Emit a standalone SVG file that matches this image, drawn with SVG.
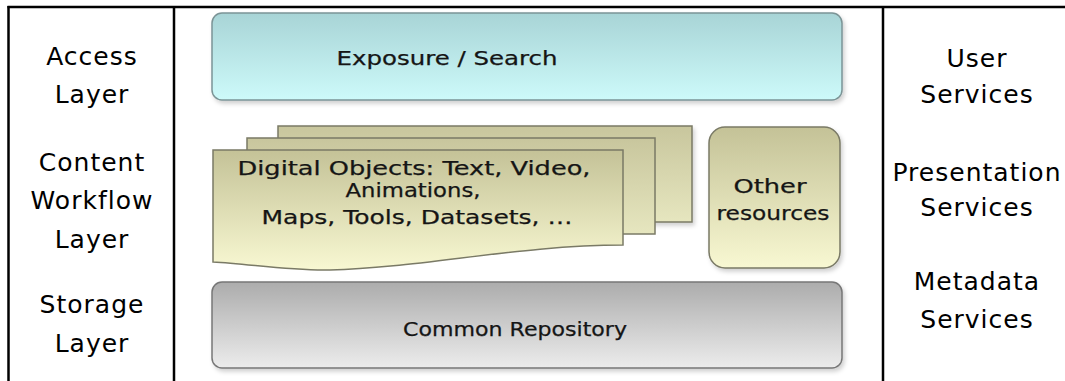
<svg xmlns="http://www.w3.org/2000/svg" width="1065" height="381" viewBox="0 0 1065 381">
  <defs>
    <linearGradient id="gCyan" x1="0" y1="0" x2="0" y2="1">
      <stop offset="0" stop-color="#a8d4d6"/>
      <stop offset="1" stop-color="#cdfafa"/>
    </linearGradient>
    <linearGradient id="gGray" x1="0" y1="0" x2="0" y2="1">
      <stop offset="0" stop-color="#acacac"/>
      <stop offset="1" stop-color="#ececec"/>
    </linearGradient>
    <linearGradient id="gOlive" x1="0" y1="0" x2="0" y2="1">
      <stop offset="0" stop-color="#c4c297"/>
      <stop offset="1" stop-color="#f8f8d2"/>
    </linearGradient>
    <linearGradient id="gOliveBack" x1="0" y1="0" x2="0" y2="1">
      <stop offset="0" stop-color="#c8c69d"/>
      <stop offset="1" stop-color="#e6e6bf"/>
    </linearGradient>
    <filter id="shadow" x="-5%" y="-5%" width="110%" height="120%">
      <feDropShadow dx="2" dy="3" stdDeviation="2" flood-color="#000" flood-opacity="0.18"/>
    </filter>
  </defs>
  <style>
    .frame { stroke: #000; stroke-width: 2.5; fill: none; }
    .side { font-family: "DejaVu Sans", Verdana, sans-serif; font-size: 25px; letter-spacing: 1px; fill: #000; text-anchor: middle; }
    .inner { font-family: "DejaVu Sans", "Comic Sans MS", sans-serif; font-size: 19px; fill: #151515; stroke: #151515; stroke-width: 0.25; text-anchor: middle; }
    .box { stroke-width: 1.5; }
  </style>
  <rect width="1065" height="381" fill="#fff"/>

  <g id="frame">
    <line class="frame" x1="7.5" y1="7" x2="1065" y2="7"/>
    <line class="frame" x1="8.5" y1="6" x2="8.5" y2="381"/>
    <line class="frame" x1="174" y1="6" x2="174" y2="381"/>
    <line class="frame" x1="883" y1="6" x2="883" y2="381"/>
  </g>

  <g id="left-labels">
    <text class="side" x="92" y="65">Access</text>
    <text class="side" x="92" y="103">Layer</text>
    <text class="side" x="92" y="171">Content</text>
    <text class="side" x="92" y="209">Workflow</text>
    <text class="side" x="92" y="248">Layer</text>
    <text class="side" x="92" y="313">Storage</text>
    <text class="side" x="92" y="352">Layer</text>
  </g>

  <g id="right-labels">
    <text class="side" x="977" y="67">User</text>
    <text class="side" x="977" y="103">Services</text>
    <text class="side" x="977" y="181">Presentation</text>
    <text class="side" x="977" y="216">Services</text>
    <text class="side" x="977" y="290">Metadata</text>
    <text class="side" x="977" y="328">Services</text>
  </g>

  <g id="exposure-search">
    <rect class="box" x="212" y="13" width="630" height="87" rx="10" fill="url(#gCyan)" stroke="#7b9496" filter="url(#shadow)"/>
    <text class="inner" x="447" y="65" textLength="221" lengthAdjust="spacingAndGlyphs">Exposure / Search</text>
  </g>

  <g id="digital-objects">
    <rect class="box" x="278" y="126" width="414" height="96" fill="url(#gOliveBack)" stroke="#7a7a66" filter="url(#shadow)"/>
    <rect class="box" x="247" y="138" width="408" height="96" fill="url(#gOliveBack)" stroke="#7a7a66"/>
    <path class="box" d="M213,150 H623 V245 C520,245 420,268 330,270 C290,271 250,264 213,262 Z" fill="url(#gOlive)" stroke="#7a7a66"/>
    <text class="inner" x="414" y="175" textLength="353" lengthAdjust="spacingAndGlyphs">Digital Objects: Text, Video,</text>
    <text class="inner" x="413" y="197" textLength="135" lengthAdjust="spacingAndGlyphs">Animations,</text>
    <text class="inner" x="417" y="224" textLength="311" lengthAdjust="spacingAndGlyphs">Maps, Tools, Datasets, …</text>
  </g>

  <g id="other-resources">
    <rect class="box" x="709" y="127" width="131" height="141" rx="16" fill="url(#gOlive)" stroke="#7a7a66" filter="url(#shadow)"/>
    <text class="inner" x="770" y="193" textLength="73" lengthAdjust="spacingAndGlyphs">Other</text>
    <text class="inner" x="773" y="220" textLength="113" lengthAdjust="spacingAndGlyphs">resources</text>
  </g>

  <g id="common-repository">
    <rect class="box" x="212" y="282" width="630" height="86" rx="10" fill="url(#gGray)" stroke="#777" filter="url(#shadow)"/>
    <text class="inner" x="515" y="336" textLength="224" lengthAdjust="spacingAndGlyphs">Common Repository</text>
  </g>

  <g id="connectors"></g>
</svg>
